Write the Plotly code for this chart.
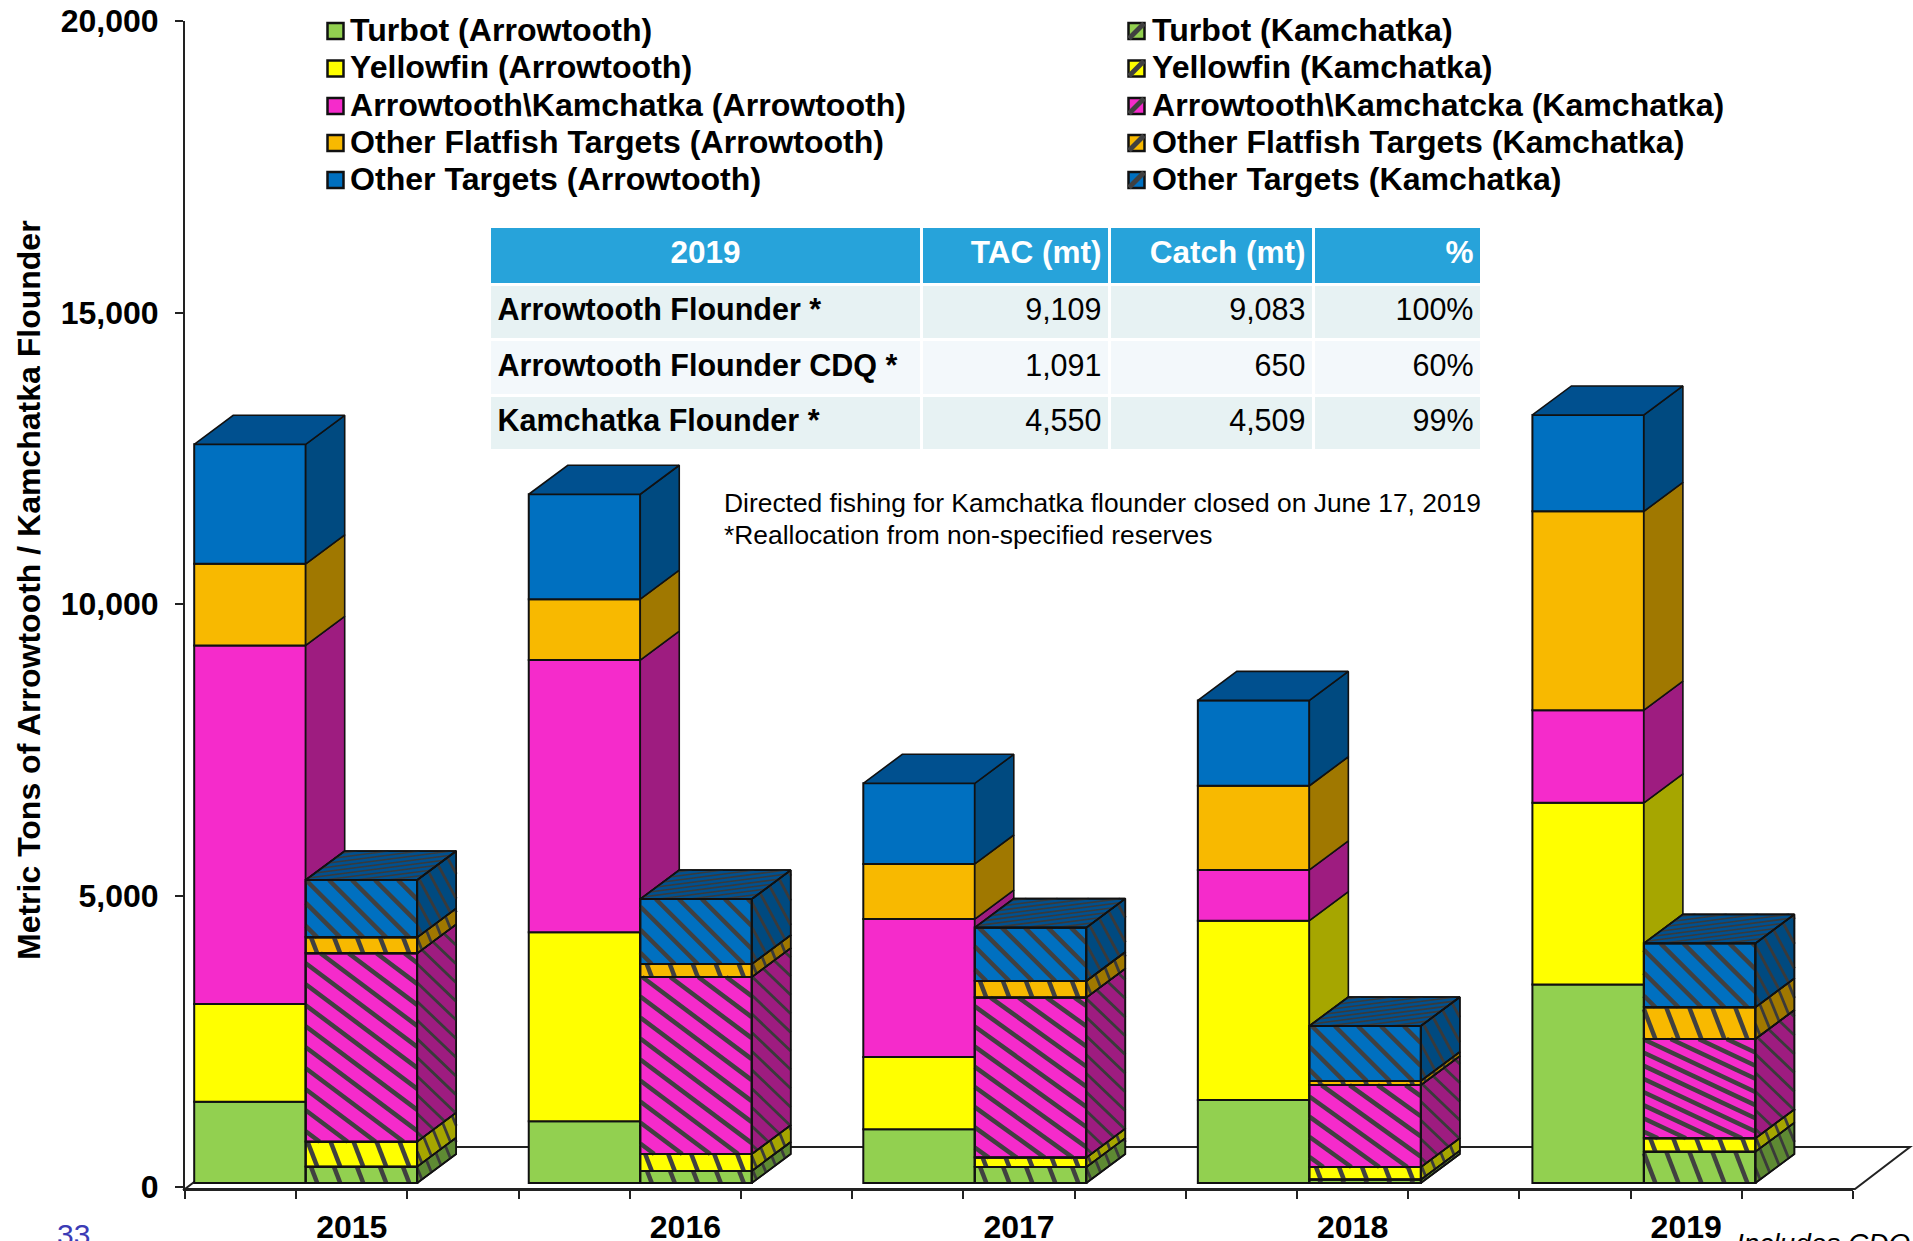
import plotly.graph_objects as go

# ---------- data ----------
years = ["2015", "2016", "2017", "2018", "2019"]
turbot_a = [1395, 1061, 921, 1424, 3404]
yellowfin_a = [1674, 3242, 1240, 3075, 3117]
arrow_a = [6151, 4666, 2367, 871, 1590]
other_flat_a = [1401, 1046, 944, 1444, 3410]
other_a = [2050, 1799, 1384, 1464, 1653]

turbot_k = [280, 206, 274, 58, 537]
yellowfin_k = [428, 291, 162, 216, 230]
arrow_k = [3232, 3036, 2744, 1406, 1703]
other_flat_k = [274, 223, 285, 70, 544]
other_k = [983, 1115, 916, 943, 1097]

names_a = ["Turbot (Arrowtooth)", "Yellowfin (Arrowtooth)", "Arrowtooth\\Kamchatka (Arrowtooth)",
           "Other Flatfish Targets (Arrowtooth)", "Other Targets (Arrowtooth)"]
names_k = ["Turbot (Kamchatka)", "Yellowfin (Kamchatka)", "Arrowtooth\\Kamchatcka (Kamchatka)",
           "Other Flatfish Targets (Kamchatka)", "Other Targets (Kamchatka)"]
front_colors = ["#92D050", "#FFFF00", "#F52BCB", "#F8B900", "#0070C0"]
side_colors = ["#5E8A33", "#A6A600", "#9E1C80", "#A07800", "#004A80"]
top_color = "#00508F"

table_head = ["2019", "TAC (mt)", "Catch (mt)", "%"]
table_rows = ["Arrowtooth Flounder *", "Arrowtooth Flounder CDQ *", "Kamchatka Flounder *"]
table_tac = ["9,109", "1,091", "4,550"]
table_catch = ["9,083", "650", "4,509"]
table_pct = ["100%", "60%", "99%"]
y_ticks = [0, 5000, 10000, 15000, 20000]

# ---------- geometry ----------
W, H = 1913, 1241
L, R, T, B = 185, 1853, 21, 1189
PX_PER_UNIT = 0.0583
Y_MIN = -(B - 1187) / PX_PER_UNIT
GROUP_PX = (R - L) / 5
BAR_PITCH = 334.55 / GROUP_PX
BAR_PX = 111.5
BAR_W = BAR_PX / GROUP_PX
A_LEFT = 9.2 / GROUP_PX
K_LEFT = A_LEFT + BAR_W
DX_PX, DY_PX = 39, 29
DX = DX_PX / GROUP_PX
DY = DY_PX / PX_PER_UNIT
BASE = 4 / PX_PER_UNIT
INK = "#111111"
HATCH = "#404040"
# hatch spacing (px across the width) and fall (px down per px across), per series
FRONT_HATCH = [(23, 2.6), (23, 2.6), (28, 0.75), (23, 2.6), (23, 1.0)]
PINK_FALL = [0.75, 0.75, 0.72, 0.72, 0.47]
SIDE_HATCH = [(9.5, 3.2), (9.5, 3.2), (11, 1.7), (9.5, 3.2), (9.5, 2.6)]


def x_data(px):
    return (px - L) / GROUP_PX


def y_data(px):
    return (1187 - px) / PX_PER_UNIT


def px_paper_x(px):
    return (px - L) / (R - L)


def px_paper_y(px):
    return (B - px) / (B - T)


def stacks(series):
    out, cum = [], [BASE] * len(series[0])
    for s in series:
        out.append(list(cum))
        cum = [c + v for c, v in zip(cum, s)]
    out.append(cum)
    return out


def stripes(w, h, step, fall, to_data):
    """Diagonal lines v = c - fall*u clipped to the box [0,w]x[0,h], mapped to data by to_data(u, v)."""
    xs, ys = [], []
    c = step * fall * 0.5
    while c < h + fall * w:
        u0 = max(0.0, (c - h) / fall)
        u1 = min(w, c / fall)
        if u1 > u0:
            a, b = to_data(u0, c - fall * u0), to_data(u1, c - fall * u1)
            xs += [a[0], b[0], None]
            ys += [a[1], b[1], None]
        c += step * fall
    return xs, ys


series_a = [turbot_a, yellowfin_a, arrow_a, other_flat_a, other_a]
series_k = [turbot_k, yellowfin_k, arrow_k, other_flat_k, other_k]
cum_a, cum_k = stacks(series_a), stacks(series_k)

fig = go.Figure()

# front faces
for i, s in enumerate(series_a):
    fig.add_bar(x=[g * BAR_PITCH + A_LEFT + BAR_W / 2 for g in range(5)], y=s, base=cum_a[i], width=BAR_W,
                name=names_a[i], marker=dict(color=front_colors[i], line=dict(color=INK, width=2)),
                showlegend=False)
for i, s in enumerate(series_k):
    fig.add_bar(x=[g * BAR_PITCH + K_LEFT + BAR_W / 2 for g in range(5)], y=s, base=cum_k[i], width=BAR_W,
                name=names_k[i], marker=dict(color=front_colors[i], line=dict(color=INK, width=2)),
                showlegend=False)


def side_polys(left, cum, i, floor=None):
    xs, ys = [], []
    for g in range(5):
        lo, hi = cum[i][g], cum[i + 1][g]
        if floor is not None:
            lo, hi = max(lo, floor[g]), max(hi, floor[g])
        if hi <= lo:
            continue
        x0 = g * BAR_PITCH + left + BAR_W
        xs += [x0, x0 + DX, x0 + DX, x0, x0, None]
        ys += [lo, lo + DY, hi + DY, hi, lo, None]
    return xs, ys


def top_polys(left, cum):
    xs, ys = [], []
    for g in range(5):
        x0, x1, t = g * BAR_PITCH + left, g * BAR_PITCH + left + BAR_W, cum[-1][g]
        xs += [x0, x1, x1 + DX, x0 + DX, x0, None]
        ys += [t, t, t + DY, t + DY, t, None]
    return xs, ys


def add_lines(xs, ys, color, width, name):
    fig.add_scatter(x=xs, y=ys, mode="lines", line=dict(color=color, width=width),
                    hoverinfo="skip", showlegend=False, name=name)


def add_fill(xs, ys, color, name):
    fig.add_scatter(x=xs, y=ys, mode="lines", fill="toself", fillcolor=color,
                    line=dict(color=INK, width=1.6), hoverinfo="skip", showlegend=False, name=name)


# Arrowtooth side and top faces (only what stands above the Kamchatka stack is visible)
for i in range(5):
    xs, ys = side_polys(A_LEFT, cum_a, i, floor=cum_k[-1])
    add_fill(xs, ys, side_colors[i], names_a[i] + " side")
xs, ys = top_polys(A_LEFT, cum_a)
add_fill(xs, ys, top_color, "Arrowtooth top")

# Kamchatka hatching on front faces
for i in range(5):
    xs, ys = [], []
    for g in range(5):
        step, fall = FRONT_HATCH[i]
        if i == 2:
            fall = PINK_FALL[g]
        lo = cum_k[i][g]
        h = (cum_k[i + 1][g] - lo) * PX_PER_UNIT
        x0 = g * BAR_PITCH + K_LEFT

        def front_map(u, v, x0=x0, lo=lo):
            return x0 + u / GROUP_PX, lo + v / PX_PER_UNIT

        a, b = stripes(BAR_PX, h, step, fall, front_map)
        xs += a
        ys += b
    add_lines(xs, ys, HATCH, 4.5, names_k[i] + " hatch")

# Kamchatka side faces
for i in range(5):
    xs, ys = side_polys(K_LEFT, cum_k, i)
    add_fill(xs, ys, side_colors[i], names_k[i] + " side")
for i in range(5):
    xs, ys = [], []
    step, fall = SIDE_HATCH[i]
    for g in range(5):
        lo = cum_k[i][g]
        h = (cum_k[i + 1][g] - lo) * PX_PER_UNIT
        x0 = g * BAR_PITCH + K_LEFT + BAR_W

        def side_map(u, v, x0=x0, lo=lo):
            return x0 + u / GROUP_PX, lo + (v + u * DY_PX / DX_PX) / PX_PER_UNIT

        a, b = stripes(DX_PX, h, step, fall, side_map)
        xs += a
        ys += b
    add_lines(xs, ys, "#3A3A3A", 2.8, names_k[i] + " side hatch")

# Kamchatka top faces
xs, ys = top_polys(K_LEFT, cum_k)
add_fill(xs, ys, top_color, "Kamchatka top")
hx, hy = [], []
for g in range(5):
    t = cum_k[-1][g]
    x0 = g * BAR_PITCH + K_LEFT

    def top_map(u, v, x0=x0, t=t):
        return x0 + (u + v * DX_PX / DY_PX) / GROUP_PX, t + v / PX_PER_UNIT

    # fine lines that rise slowly to the right across the top face
    for d0 in range(-18, 29, 5):
        u0, v0 = 0.0, float(d0)
        u1, v1 = BAR_PX, d0 + 0.16 * BAR_PX
        if v0 < 0:
            u0, v0 = -d0 / 0.16, 0.0
        if v1 > DY_PX:
            u1, v1 = (DY_PX - d0) / 0.16, float(DY_PX)
        if u1 > u0:
            a, b = top_map(u0, v0), top_map(u1, v1)
            hx += [a[0], b[0], None]
            hy += [a[1], b[1], None]
add_lines(hx, hy, "#3A3A3A", 1.6, "Kamchatka top hatch")

# crisp outlines back on top of the hatching
for i in range(5):
    xs, ys = side_polys(K_LEFT, cum_k, i)
    add_lines(xs, ys, INK, 1.6, names_k[i] + " side outline")
    fx, fy = [], []
    for g in range(5):
        lo, hi, x0 = cum_k[i][g], cum_k[i + 1][g], g * BAR_PITCH + K_LEFT
        fx += [x0, x0 + BAR_W, x0 + BAR_W, x0, x0, None]
        fy += [lo, lo, hi, hi, lo, None]
    add_lines(fx, fy, INK, 2, names_k[i] + " outline")
xs, ys = top_polys(K_LEFT, cum_k)
add_lines(xs, ys, INK, 1.6, "Kamchatka top outline")

# legend (two hand-placed columns: plotly's own legend cannot hold this tight a row pitch)
annotations = []
LEG_ROWS = [30, 67.5, 105, 142, 179]
for col, (names, sw_px, txt_px) in enumerate([(names_a, 335.5, 348), (names_k, 1136.5, 1150)]):
    for i, nm in enumerate(names):
        fig.add_scatter(x=[x_data(sw_px)], y=[y_data(LEG_ROWS[i] + 1)], mode="markers",
                        marker=dict(symbol="square", size=16, color=front_colors[i],
                                    line=dict(color=INK, width=2.5)),
                        hoverinfo="skip", showlegend=False, name=nm + " key")
        if col == 1:
            fig.add_scatter(x=[x_data(sw_px)], y=[y_data(LEG_ROWS[i] + 1)], mode="markers",
                            marker=dict(symbol="line-ne", size=15, line=dict(color=HATCH, width=5)),
                            hoverinfo="skip", showlegend=False, name=nm + " key hatch")
        annotations.append(dict(xref="paper", yref="paper", x=px_paper_x(txt_px), y=px_paper_y(LEG_ROWS[i]),
                                xanchor="left", yanchor="middle", showarrow=False,
                                text=f"<b>{nm}</b>", font=dict(size=32.1, color="#000000")))

# notes and labels
notes = [("Directed fishing for Kamchatka flounder closed on June 17, 2019", 722, 503),
         ("*Reallocation from non-specified reserves", 722, 535)]
for t, px, py in notes:
    annotations.append(dict(xref="paper", yref="paper", x=px_paper_x(px), y=px_paper_y(py), xanchor="left",
                            yanchor="middle", showarrow=False, text=t, font=dict(size=26.4, color="#000000")))
annotations.append(dict(xref="paper", yref="paper", x=px_paper_x(29), y=px_paper_y(590), textangle=-90,
                        xanchor="center", yanchor="middle", showarrow=False,
                        text="<b>Metric Tons of Arrowtooth / Kamchatka Flounder</b>",
                        font=dict(size=32, color="#000000")))
annotations.append(dict(xref="paper", yref="paper", x=px_paper_x(55), y=px_paper_y(1216), xanchor="left",
                        yanchor="top", showarrow=False, text="33", font=dict(size=30, color="#3B3BB5")))
annotations.append(dict(xref="paper", yref="paper", x=px_paper_x(1734), y=px_paper_y(1226), xanchor="left",
                        yanchor="top", showarrow=False, text="<i>Includes CDQ</i>",
                        font=dict(size=28, color="#000000")))

# table
COL_W = [432, 188, 204, 168]
fig.add_trace(go.Table(
    domain=dict(x=[px_paper_x(489.5), px_paper_x(1481.5)], y=[px_paper_y(450), px_paper_y(226)]),
    columnwidth=COL_W,
    header=dict(values=[f"<b>{h}</b>" for h in table_head], height=58,
                fill_color="#27A3DA", line=dict(color="white", width=3),
                align=["center", "right", "right", "right"],
                font=dict(size=31.5, color="white", family="Liberation Sans")),
    cells=dict(values=[[f"<b>{r}</b>" for r in table_rows],
                       [f"<span>{v}</span>" for v in table_tac],
                       [f"<span>{v}</span>" for v in table_catch],
                       [f"<span>{v}</span>" for v in table_pct]], height=55.5,
               fill_color=[["#E7F2F3", "#F3F8FB", "#E7F2F3"]] * 4, line=dict(color="white", width=3),
               align=["left", "right", "right", "right"],
               font=dict(size=30.5, color="#000000", family="Liberation Sans")),
))

floor_corners = [(L, B), (1855, B), (1910, 1147), (240, 1147)]
path = "M " + " L ".join(f"{px_paper_x(a)} {px_paper_y(b)}" for a, b in floor_corners) + " Z"

fig.update_layout(
    width=W, height=H, autosize=False, barmode="overlay", showlegend=False,
    plot_bgcolor="white", paper_bgcolor="white",
    margin=dict(l=L, r=W - R, t=T, b=H - B, pad=0, autoexpand=False),
    font=dict(family="Liberation Sans", color="#000000"),
    annotations=annotations,
    shapes=[dict(type="path", xref="paper", yref="paper", path=path, layer="below",
                 line=dict(color="#222222", width=2), fillcolor="white")],
    xaxis=dict(range=[0, 5], tickmode="array", tickvals=[g + 0.5 for g in range(5)],
               ticktext=[f"<b>{y}</b>" for y in years], ticks="", ticklen=0,
               ticklabelstandoff=9,
               minor=dict(tickmode="array", tickvals=[k / 3 for k in range(16)], ticks="outside",
                          ticklen=8, tickcolor="#222222", tickwidth=1.5),
               showgrid=False, zeroline=False, showline=True, linecolor="#222222", linewidth=2,
               tickfont=dict(size=32, color="#000000")),
    yaxis=dict(range=[Y_MIN, 20000], tickmode="array", tickvals=y_ticks, tickformat=",",
               ticks="outside", ticklen=8, tickcolor="#222222", tickwidth=1.5, ticklabelstandoff=10,
               showgrid=False, zeroline=False, showline=True, linecolor="#222222", linewidth=2,
               tickfont=dict(size=32, color="#000000", weight="bold")),
)

fig.write_html("out.html", config=dict(displayModeBar=False),
               post_script="document.body.style.margin='0';")
